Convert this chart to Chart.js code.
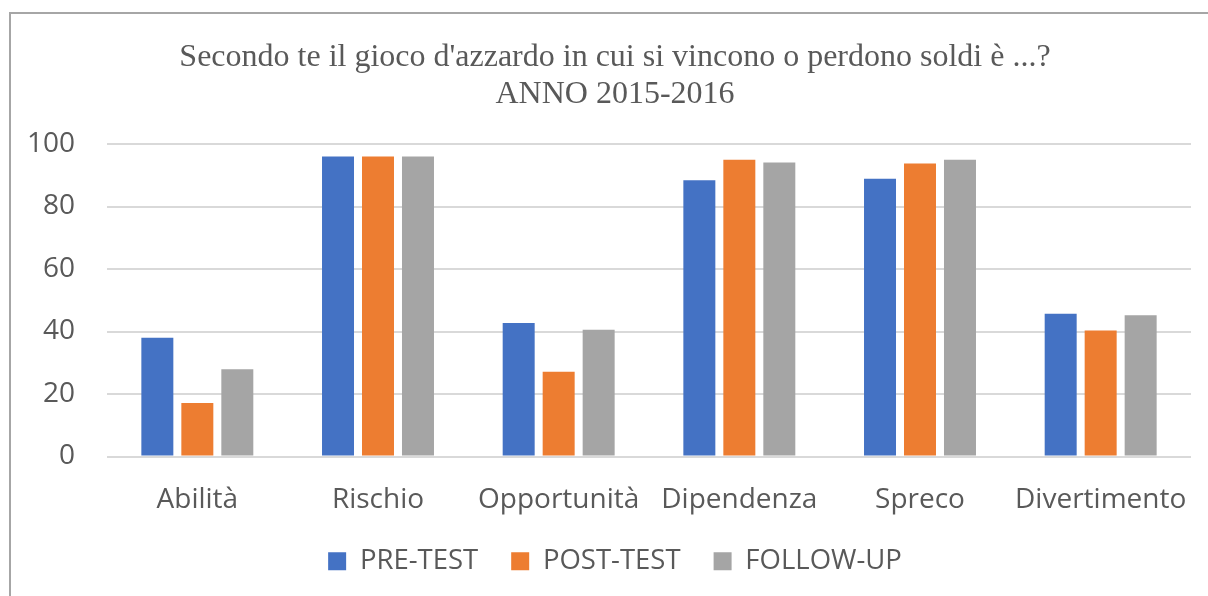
<!DOCTYPE html>
<html>
<head>
<meta charset="utf-8">
<script src="https://cdn.jsdelivr.net/npm/chart.js@4"></script>
<style>
  html, body { margin: 0; padding: 0; background: #fff; overflow: hidden; }
  #wrap { position: relative; width: 1208px; height: 596px; }
  #myChart { position: absolute; left: 0; top: 0; }
  #frame { position: absolute; left: 9px; top: 12px; width: 1300px; height: 700px;
           border-left: 2px solid #a6a6a6; border-top: 2px solid #a6a6a6; pointer-events: none; }
</style>
</head>
<body>
<div id="wrap">
  <canvas id="myChart" width="1208" height="596"></canvas>
  <div id="frame"></div>
</div>
<script>
// dati
const categories = ['Abilità', 'Rischio', 'Opportunità', 'Dipendenza', 'Spreco', 'Divertimento'];
const preTest = [38, 96, 42.7, 88.4, 88.9, 45.7];
const postTest = [17.1, 96, 27.1, 95, 93.8, 40.3];
const followUp = [27.9, 96, 40.6, 94.1, 95, 45.2];
const yTicks = [0, 20, 40, 60, 80, 100];

const sans = '"Open Sans", sans-serif';
const textColor = '#595959';

const ctx = document.getElementById('myChart').getContext('2d');
const myChart = new Chart(ctx, {
    type: 'bar',
    data: {
        labels: categories,
        datasets: [
            { label: 'PRE-TEST', data: preTest, backgroundColor: '#4472C4' },
            { label: 'POST-TEST', data: postTest, backgroundColor: '#ED7D31' },
            { label: 'FOLLOW-UP', data: followUp, backgroundColor: '#A5A5A5' }
        ]
    },
    options: {
        responsive: false,
        animation: false,
        categoryPercentage: 0.664,
        barPercentage: 0.8,
        layout: { padding: { left: 22, right: 0, top: 0, bottom: 11 } },
        plugins: {
            title: {
                display: true,
                text: ["Secondo te il gioco d'azzardo in cui si vincono o perdono soldi è ...?", 'ANNO 2015-2016'],
                color: textColor,
                font: { family: '"Liberation Serif", serif', size: 32, weight: 'normal', lineHeight: 1.15 },
                padding: { top: 39.2, bottom: 31.2 }
            },
            legend: {
                position: 'bottom',
                labels: {
                    color: textColor,
                    font: { family: sans, size: 27.5 },
                    boxWidth: 18,
                    boxHeight: 18,
                    padding: 33
                }
            },
            tooltip: { enabled: false }
        },
        scales: {
            x: {
                grid: { display: false },
                border: { display: false },
                ticks: { color: textColor, font: { family: sans, size: 28 }, padding: 19, maxRotation: 0 },
                afterFit: (scale) => { scale.height = 58; }
            },
            y: {
                min: 0,
                max: 100,
                afterBuildTicks: (scale) => { scale.ticks = yTicks.map(v => ({ value: v })); },
                grid: { color: '#d9d9d9', lineWidth: 2, drawTicks: false },
                border: { display: false },
                ticks: { color: textColor, font: { family: sans, size: 28 }, padding: 32 },
                afterFit: (scale) => { scale.width = 85; }
            },
            // asse vuoto a destra, solo per lo spazio
            y2: {
                type: 'linear',
                position: 'right',
                grid: { display: false },
                border: { display: false },
                ticks: { display: false },
                afterFit: (scale) => { scale.width = 17; }
            }
        }
    }
});
</script>
</body>
</html>
